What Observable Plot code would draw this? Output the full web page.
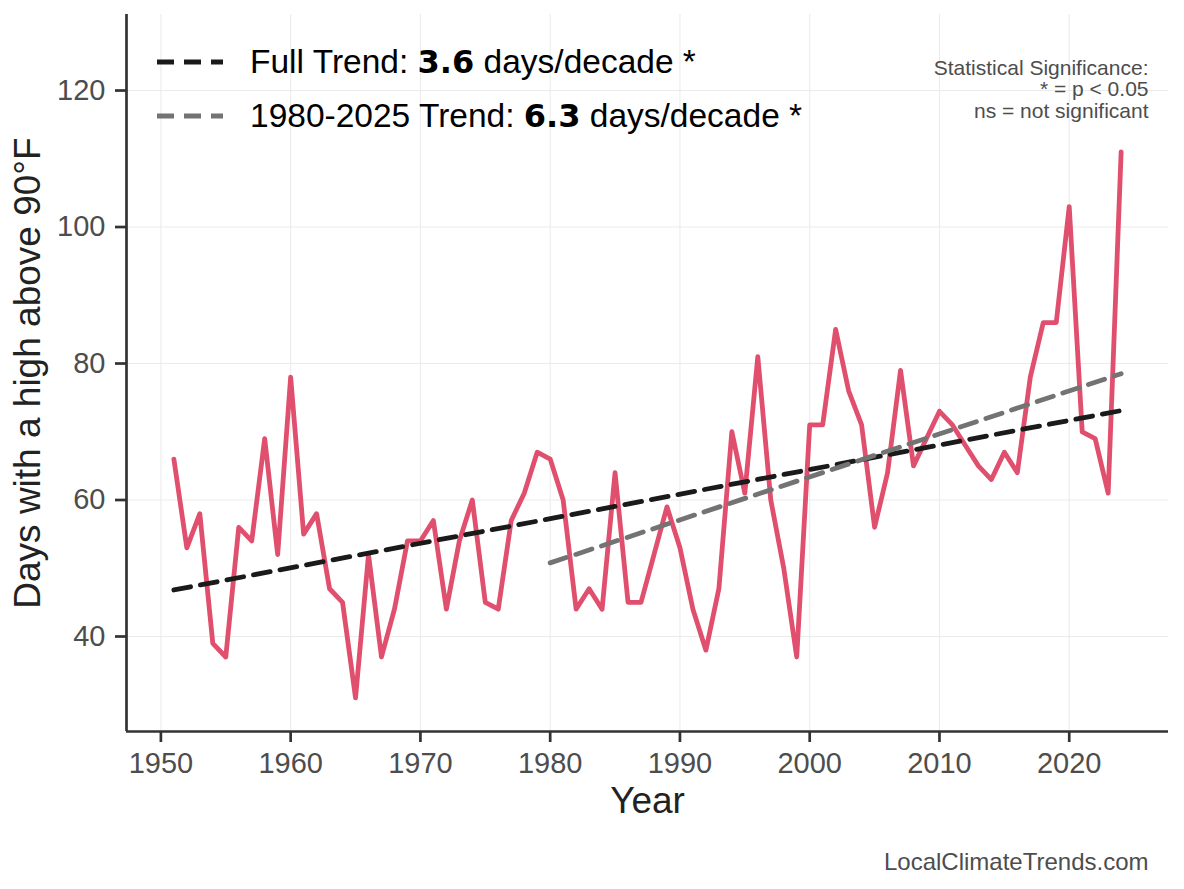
<!DOCTYPE html>
<html>
<head>
<meta charset="utf-8">
<script src="https://cdn.jsdelivr.net/npm/d3@7"></script>
<script src="https://cdn.jsdelivr.net/npm/@observablehq/plot@0.6"></script>
<style>
  html, body { margin: 0; padding: 0; background: #fff; }
  #wrap { position: relative; width: 1184px; height: 889px; font-family: "Liberation Sans", Arial, sans-serif; }
  .leg { position: absolute; left: 155px; display: flex; align-items: center; height: 40px; white-space: nowrap; }
  .leg svg { display: block; }
  .leg .lab { margin-left: 25px; font-size: 33.5px; color: #000; font-family: "Liberation Sans", Arial, sans-serif; }
  .leg .lab b { font-family: "DejaVu Sans", sans-serif; font-weight: bold; font-size: 32px; }
</style>
</head>
<body>
<div id="wrap"></div>
<script>
// ---- data ----
const years = [1951,1952,1953,1954,1955,1956,1957,1958,1959,1960,
               1961,1962,1963,1964,1965,1966,1967,1968,1969,1970,
               1971,1972,1973,1974,1975,1976,1977,1978,1979,1980,
               1981,1982,1983,1984,1985,1986,1987,1988,1989,1990,
               1991,1992,1993,1994,1995,1996,1997,1998,1999,2000,
               2001,2002,2003,2004,2005,2006,2007,2008,2009,2010,
               2011,2012,2013,2014,2015,2016,2017,2018,2019,2020,
               2021,2022,2023,2024];
const daysAbove90 = [66,53,58,39,37,56,54,69,52,78,
                     55,58,47,45,31,52,37,44,54,54,
                     57,44,54,60,45,44,57,61,67,66,
                     60,44,47,44,64,45,45,52,59,53,
                     44,38,47,70,61,81,60,50,37,71,
                     71,85,76,71,56,64,79,65,69,73,
                     71,68,65,63,67,64,78,86,86,103,
                     70,69,61,111];
const recentStart = 1980;
const xTicks = [1950,1960,1970,1980,1990,2000,2010,2020];
const yTicks = [40,60,80,100,120];
const xDomain = [1947.35, 2027.65];
const yDomain = [26.08, 131.14];
// trend rates (days per decade) as stated in the reference legend
const trendRates = [3.6, 6.3];
const legendItems = [
  {pre: "Full Trend: ", value: "3.6", post: " days/decade *", color: "#1a1a1a"},
  {pre: "1980-2025 Trend: ", value: "6.3", post: " days/decade *", color: "#737373"}
];
const sigNote = "Statistical Significance:\n* = p < 0.05\nns = not significant";
const xTitle = "Year";
const yTitle = "Days with a high above 90°F";
const caption = "LocalClimateTrends.com";

// ---- build ----
const data = years.map((year, i) => ({year, days: daysAbove90[i]}));
const recent = data.filter(d => d.year >= recentStart);

// trend line with the stated rate, passing through the data centroid
function trendLine(rows, perDecade) {
  const slope = perDecade / 10;
  const mx = d3.mean(rows, d => d.year), my = d3.mean(rows, d => d.days);
  return d3.extent(rows, d => d.year).map(year => ({year, days: my + slope * (year - mx)}));
}
const fullTrend = trendLine(data, trendRates[0]);
const recentTrend = trendLine(recent, trendRates[1]);

const dash = "17,10";
const plot = Plot.plot({
  width: 1184,
  height: 889,
  marginLeft: 126,
  marginRight: 16,
  marginTop: 14,
  marginBottom: 158,
  style: {fontFamily: "'Liberation Sans', Arial, sans-serif", background: "#fff", overflow: "visible"},
  x: {domain: xDomain, label: null},
  y: {domain: yDomain, label: null},
  marks: [
    Plot.gridX(xTicks, {stroke: "#ebebeb", strokeOpacity: 1, strokeWidth: 1.1}),
    Plot.gridY(yTicks, {stroke: "#ebebeb", strokeOpacity: 1, strokeWidth: 1.1}),
    Plot.line(data, {x: "year", y: "days", stroke: "#e04f6d", strokeWidth: 4.8, strokeLinejoin: "round"}),
    Plot.line(fullTrend, {x: "year", y: "days", stroke: legendItems[0].color, strokeWidth: 4.8, strokeDasharray: dash}),
    Plot.line(recentTrend, {x: "year", y: "days", stroke: legendItems[1].color, strokeWidth: 4.8, strokeDasharray: dash}),
    Plot.ruleX([xDomain[0]], {stroke: "#333", strokeWidth: 2.7}),
    Plot.ruleY([yDomain[0]], {stroke: "#333", strokeWidth: 2.7, x1: xDomain[0], x2: xDomain[1]}),
    Plot.axisX({ticks: xTicks, tickFormat: d => String(d), tickSize: 11, tickPadding: 10, stroke: "#333", strokeWidth: 2.7, fill: "#4d4d4d", fontSize: 29, label: null}),
    Plot.axisY({ticks: yTicks, tickSize: 11, tickPadding: 10, stroke: "#333", strokeWidth: 2.7, fill: "#4d4d4d", fontSize: 29, label: null}),
    Plot.text([xTitle], {frameAnchor: "bottom", dy: 70, text: d => d, lineAnchor: "middle", textAnchor: "middle", fontSize: 37, fill: "#222"}),
    Plot.text([yTitle], {frameAnchor: "left", dx: -98, rotate: -90, text: d => d, textAnchor: "middle", lineAnchor: "middle", fontSize: 37, fill: "#222"}),
    Plot.text([sigNote], {frameAnchor: "top-right", dx: -20, dy: 75, text: d => d, textAnchor: "end", lineAnchor: "middle", lineHeight: 1.03, fontSize: 21, fill: "#4d4d4d"}),
    Plot.text([caption], {frameAnchor: "bottom-right", dx: -20, dy: 131, text: d => d, textAnchor: "end", lineAnchor: "middle", fontSize: 24, fill: "#4d4d4d"})
  ]
});
const wrap = document.getElementById("wrap");
wrap.appendChild(plot);

// legend overlay (inside plot panel, top-left)
const legendCenters = [62, 116];
legendItems.forEach((it, i) => {
  const row = document.createElement("div");
  row.className = "leg";
  row.style.top = (legendCenters[i] - 20) + "px";
  row.innerHTML =
    `<svg width="70" height="10"><line x1="2" y1="5" x2="68" y2="5" stroke="${it.color}" stroke-width="4.8" stroke-dasharray="${dash}"/></svg>` +
    `<span class="lab">${it.pre}<b>${it.value}</b>${it.post}</span>`;
  wrap.appendChild(row);
});
</script>
</body>
</html>
